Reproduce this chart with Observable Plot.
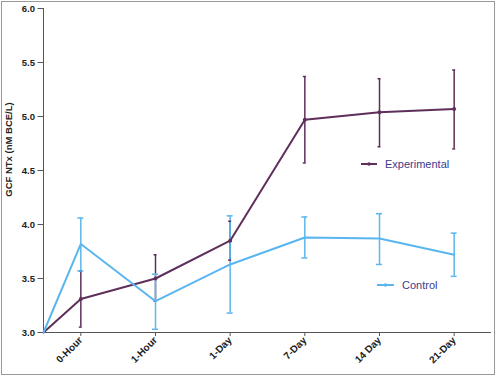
<!DOCTYPE html>
<html><head><meta charset="utf-8">
<script src="https://cdn.jsdelivr.net/npm/d3@7"></script>
<script src="https://cdn.jsdelivr.net/npm/@observablehq/plot@0.6"></script>
<style>
body{margin:0;background:#fff;font-family:Arial,"Liberation Sans",sans-serif;}
#wrap{position:relative;width:496px;height:376px;}
#border{position:absolute;left:1px;top:1px;width:492px;height:372px;border:1px solid #9a9a9a;pointer-events:none;}
</style></head>
<body>
<div id="wrap"><div id="chart"></div><div id="border"></div></div>
<script>
const categories = ["0-Hour","1-Hour","1-Day","7-Day","14 Day","21-Day"];
const expMean = [3.31, 3.50, 3.85, 4.97, 5.04, 5.07];
const expLow  = [3.05, 3.29, 3.67, 4.57, 4.72, 4.70];
const expHigh = [3.57, 3.72, 4.03, 5.37, 5.35, 5.43];
const ctlMean = [3.82, 3.29, 3.63, 3.88, 3.87, 3.72];
const ctlLow  = [3.57, 3.03, 3.18, 3.69, 3.63, 3.52];
const ctlHigh = [4.06, 3.54, 4.08, 4.07, 4.10, 3.92];
const yTicks = [3.0, 3.5, 4.0, 4.5, 5.0, 5.5, 6.0];
const baseline = 3.0;

const expColor = "#5e2f5a";
const ctlColor = "#5ab6ef";

function series(mean, low, high) {
  return categories.map((c, i) => ({x: i + 0.5, cat: c, y: mean[i], lo: low[i], hi: high[i]}));
}
const exp = series(expMean, expLow, expHigh);
const ctl = series(ctlMean, ctlLow, ctlHigh);
const expLine = [{x: 0, y: baseline}, ...exp];
const ctlLine = [{x: 0, y: baseline}, ...ctl];
const xs = categories.map((c, i) => i + 0.5);

const pxPerUnit = 448 / 6;
function capMarks(data, color, halfPx) {
  const h = halfPx / pxPerUnit;
  const caps = data.flatMap(d => [{x: d.x, v: d.lo}, {x: d.x, v: d.hi}]);
  return Plot.ruleY(caps, {y: "v", x1: d => d.x - h, x2: d => d.x + h, stroke: color, strokeWidth: 1.5});
}

const chart = Plot.plot({
  width: 496, height: 376,
  marginLeft: 43, marginTop: 8, marginBottom: 44, marginRight: 5,
  style: {fontFamily: "Arial, 'Liberation Sans', sans-serif", background: "transparent"},
  x: {type: "linear", domain: [0, 6], axis: null},
  y: {domain: [3, 6], axis: null},
  marks: [
    Plot.ruleX([0], {y1: 3, y2: 6, stroke: "#555", strokeWidth: 1}),
    Plot.ruleY([baseline], {x1: 0, x2: 6, stroke: "#555", strokeWidth: 1}),
    Plot.axisY({ticks: yTicks, tickFormat: d3.format(".1f"), tickSize: 5.5, tickPadding: 3,
      fontSize: 9.5, fontWeight: "bold", fill: "#222", stroke: "#555", label: null}),
    Plot.axisX({ticks: xs, tickFormat: (d) => categories[Math.round(d - 0.5)], tickSize: 4,
      tickRotate: -45, tickPadding: 2, fontSize: 10, fontWeight: "bold", fill: "#222", stroke: "#555", label: null}),
    Plot.text(["GCF NTx (nM BCE/L)"], {frameAnchor: "left", textAnchor: "middle", dx: -35, dy: -21, rotate: -90,
      fontSize: 9.5, fontWeight: "bold", fill: "#222"}),
    Plot.ruleX(exp, {x: "x", y1: "lo", y2: "hi", stroke: expColor, strokeWidth: 1.5}),
    Plot.ruleX(ctl, {x: "x", y1: "lo", y2: "hi", stroke: ctlColor, strokeWidth: 1.5}),
    capMarks(exp, expColor, 1.5),
    capMarks(ctl, ctlColor, 3),
    Plot.line(expLine, {x: "x", y: "y", stroke: expColor, strokeWidth: 2}),
    Plot.line(ctlLine, {x: "x", y: "y", stroke: ctlColor, strokeWidth: 2}),
    Plot.dot(exp, {x: "x", y: "y", r: 2, fill: expColor}),
  ]
});

const svg = d3.select(chart);
const leg = svg.append("g").attr("text-anchor", "start");
function legendItem(x1, x2, y, color) {
  leg.append("line").attr("x1", x1).attr("x2", x2).attr("y1", y).attr("y2", y).attr("stroke", color).attr("stroke-width", 2);
  leg.append("circle").attr("cx", (x1 + x2) / 2).attr("cy", y).attr("r", 1.8).attr("fill", color);
}
legendItem(361, 377, 164, expColor);
legendItem(377, 394, 285, ctlColor);
leg.append("text").attr("x", 385).attr("y", 168).attr("font-size", 11).attr("fill", "#3d3a8a").text("Experimental");
leg.append("text").attr("x", 402).attr("y", 289).attr("font-size", 11).attr("fill", "#3d3a8a").text("Control");

document.getElementById("chart").appendChild(chart);
</script>
</body></html>
